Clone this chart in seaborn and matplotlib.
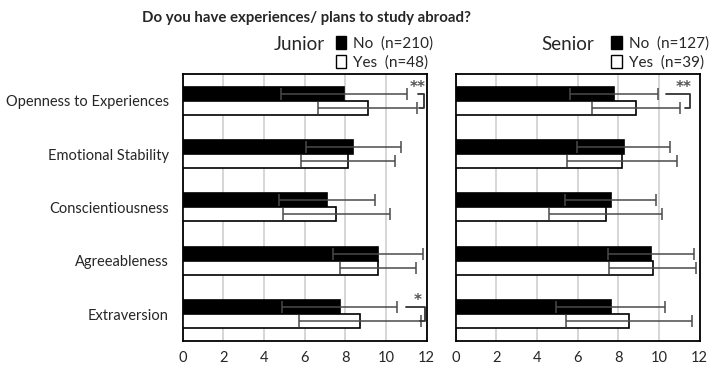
import matplotlib
matplotlib.use("Agg")
import matplotlib.pyplot as plt
from matplotlib.patches import Patch
import seaborn as sns
import numpy as np
import pandas as pd

# %%
traits = ["Openness to Experiences", "Emotional Stability", "Conscientiousness",
          "Agreeableness", "Extraversion"]
groups = ["No", "Yes"]

junior_no_mean = [7.95, 8.40, 7.10, 9.60, 7.72]
junior_no_sd = [3.10, 2.35, 2.35, 2.22, 2.83]
junior_yes_mean = [9.10, 8.12, 7.55, 9.60, 8.72]
junior_yes_sd = [2.43, 2.30, 2.63, 1.87, 2.98]
junior_n = [210, 48]
junior_sig = ["**", "", "", "", "*"]

senior_no_mean = [7.78, 8.27, 7.62, 9.59, 7.62]
senior_no_sd = [2.18, 2.29, 2.25, 2.12, 2.68]
senior_yes_mean = [8.88, 8.19, 7.37, 9.69, 8.52]
senior_yes_sd = [2.16, 2.72, 2.76, 2.13, 3.10]
senior_n = [127, 39]
senior_sig = ["**", "", "", "", ""]


def make_df(no_mean, no_sd, yes_mean, yes_sd):
    return pd.DataFrame({
        "trait": traits * 2,
        "group": ["No"] * len(traits) + ["Yes"] * len(traits),
        "mean": no_mean + yes_mean,
        "sd": no_sd + yes_sd,
    })


df_junior = make_df(junior_no_mean, junior_no_sd, junior_yes_mean, junior_yes_sd)
df_senior = make_df(senior_no_mean, senior_no_sd, senior_yes_mean, senior_yes_sd)

# bracket geometry (x of star, top-left, right, bottom-left) per significant row
junior_brackets = {0: (11.58, 11.58, 11.88, 11.62), 4: (11.58, 11.0, 11.94, 11.65)}
senior_brackets = {0: (11.2, 10.35, 11.55, 11.3)}

# %%
sns.set_style("white")
plt.rcParams["font.family"] = ["Lato", "DejaVu Sans"]

fig = plt.figure(figsize=(7.09, 3.66), dpi=100)
ax_j = fig.add_axes([0.2577, 0.0683, 0.3441, 0.7297])
ax_s = fig.add_axes([0.6427, 0.0683, 0.3441, 0.7297])

palette = {"No": "black", "Yes": "white"}


def draw_panel(ax, df, sig, brackets, title, n, title_x, leg_x):
    sns.barplot(data=df, y="trait", x="mean", hue="group", hue_order=groups,
                palette=palette, edgecolor="black", linewidth=1.2, width=0.525,
                errorbar=None, legend=False, ax=ax, zorder=3)
    centers = {}
    for grp, cont in zip(groups, ax.containers):
        sub = df[df["group"] == grp]
        ys = [p.get_y() + p.get_height() / 2 for p in cont.patches]
        centers[grp] = ys
        ax.errorbar(sub["mean"], ys, xerr=sub["sd"], fmt="none", ecolor="#4a4a4a",
                    elinewidth=1.1, capsize=4, capthick=1.1, zorder=4)

    # significance brackets
    for i, s in enumerate(sig):
        if not s:
            continue
        star_x, br_left, br_right, br_bottom = brackets[i]
        y0, y1 = centers["No"][i], centers["Yes"][i]
        ax.plot([br_left, br_right, br_right, br_bottom], [y0, y0, y1, y1],
                color="#333333", lw=1.3, zorder=5, clip_on=False)
        ax.text(star_x, y0 - 0.12, s, ha="center", va="center",
                fontsize=11, fontweight="bold", color="#555555", zorder=5,
                family="DejaVu Sans")

    ax.set_xlim(0, 12)
    ax.set_ylim(4.5, -0.5)
    ax.set_xticks(np.arange(0, 13, 2))
    ax.grid(axis="x", color="#d0d0d0", lw=1.2, zorder=0)
    ax.grid(axis="y", visible=False)
    ax.set_axisbelow(True)
    for sp in ax.spines.values():
        sp.set_color("black")
        sp.set_linewidth(1.3)
    ax.tick_params(axis="y", length=0, labelsize=10.5, pad=10)
    ax.tick_params(axis="x", length=0, pad=7, labelsize=10.5)
    ax.set_xlabel("")
    ax.set_ylabel("")

    ax.text(title_x, 1.109, title, transform=ax.transAxes, ha="center", va="center",
            fontsize=13.5)
    handles = [Patch(facecolor=palette[g], edgecolor="black", lw=1) for g in groups]
    labels = [f"{g}  (n={k})" for g, k in zip(groups, n)]
    ax.legend(handles, labels, loc="center left", bbox_to_anchor=(leg_x, 1.078),
              frameon=False, fontsize=11, handlelength=0.7, handleheight=0.9,
              handletextpad=0.45, labelspacing=0.3, borderaxespad=0, borderpad=0)


draw_panel(ax_j, df_junior, junior_sig, junior_brackets, "Junior", junior_n,
           title_x=0.477, leg_x=0.627)
draw_panel(ax_s, df_senior, senior_sig, senior_brackets, "Senior", senior_n,
           title_x=0.458, leg_x=0.638)
ax_s.set_yticklabels([])

fig.text(0.4316, 0.951, "Do you have experiences/ plans to study abroad?",
         ha="center", va="center", fontsize=10.8, fontweight="bold")

fig.savefig("out.png", dpi=100)
